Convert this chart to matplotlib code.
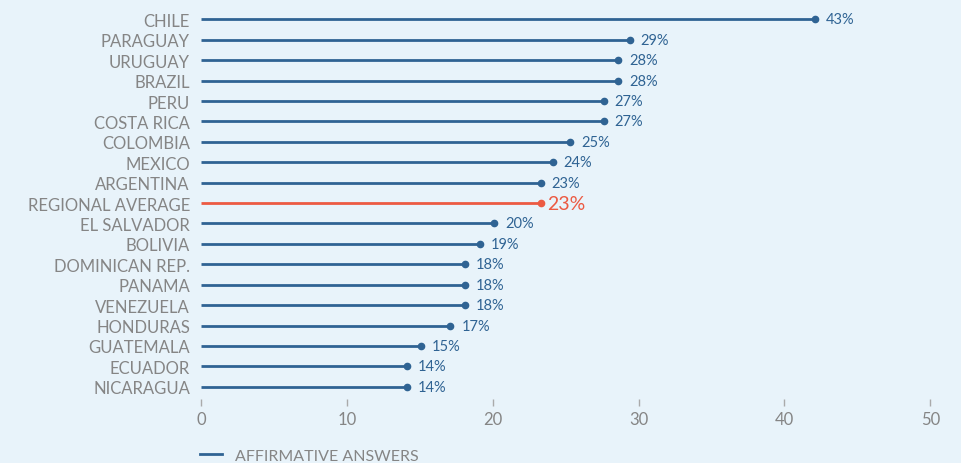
import matplotlib.pyplot as plt
from matplotlib.lines import Line2D

plt.rcParams['font.family'] = ['Lato', 'DejaVu Sans']

# countries from top to bottom
countries = ['CHILE', 'PARAGUAY', 'URUGUAY', 'BRAZIL', 'PERU', 'COSTA RICA',
             'COLOMBIA', 'MEXICO', 'ARGENTINA', 'REGIONAL AVERAGE', 'EL SALVADOR',
             'BOLIVIA', 'DOMINICAN REP.', 'PANAMA', 'VENEZUELA', 'HONDURAS',
             'GUATEMALA', 'ECUADOR', 'NICARAGUA']
values = [42.1, 29.4, 28.6, 28.6, 27.6, 27.6, 25.3, 24.1, 23.3, 23.3, 20.1,
          19.1, 18.1, 18.1, 18.1, 17.1, 15.1, 14.1, 14.1]
value_labels = ['43%', '29%', '28%', '28%', '27%', '27%', '25%', '24%', '23%', '23%',
                '20%', '19%', '18%', '18%', '18%', '17%', '15%', '14%', '14%']
xticks = [0, 10, 20, 30, 40, 50]

bg = '#e8f3fa'
blue = '#2f6393'
red = '#ec5a42'
grey = '#858585'

fig = plt.figure(figsize=(9.62, 4.64), dpi=100, facecolor=bg)
ax = fig.add_axes([0.209, 0.138, 0.758, 0.84], facecolor=bg)

for i, (name, v, lab) in enumerate(zip(countries, values, value_labels)):
    c = red if name == 'REGIONAL AVERAGE' else blue
    ax.plot([0, v], [i, i], color=c, lw=2, solid_capstyle='butt')
    ax.plot(v, i, 'o', color=c, ms=4.5)
    if name == 'REGIONAL AVERAGE':
        ax.text(v + 0.45, i, lab, color=red, fontsize=14, va='center')
    else:
        ax.text(v + 0.75, i, lab, color=blue, fontsize=10.5, va='center')

ax.set_ylim(18.6, -0.5)
ax.set_xlim(0, 50)
ax.set_yticks(range(len(countries)))
ax.set_yticklabels(countries, fontsize=12, color=grey)
ax.tick_params(axis='y', length=0, pad=8)
ax.set_xticks(xticks)
ax.tick_params(axis='x', length=5, width=1, color='#aaaaaa', labelcolor=grey,
               labelsize=12, pad=4)
for s in ax.spines.values():
    s.set_visible(False)

handle = Line2D([], [], color=blue, lw=2)
fig.legend([handle], ['AFFIRMATIVE ANSWERS'], loc='center left',
           bbox_to_anchor=(0.193, 0.016), frameon=False, fontsize=11.5,
           labelcolor=grey, handlelength=1.4, handletextpad=0.8)

plt.savefig('out.png', dpi=100, facecolor=bg)
